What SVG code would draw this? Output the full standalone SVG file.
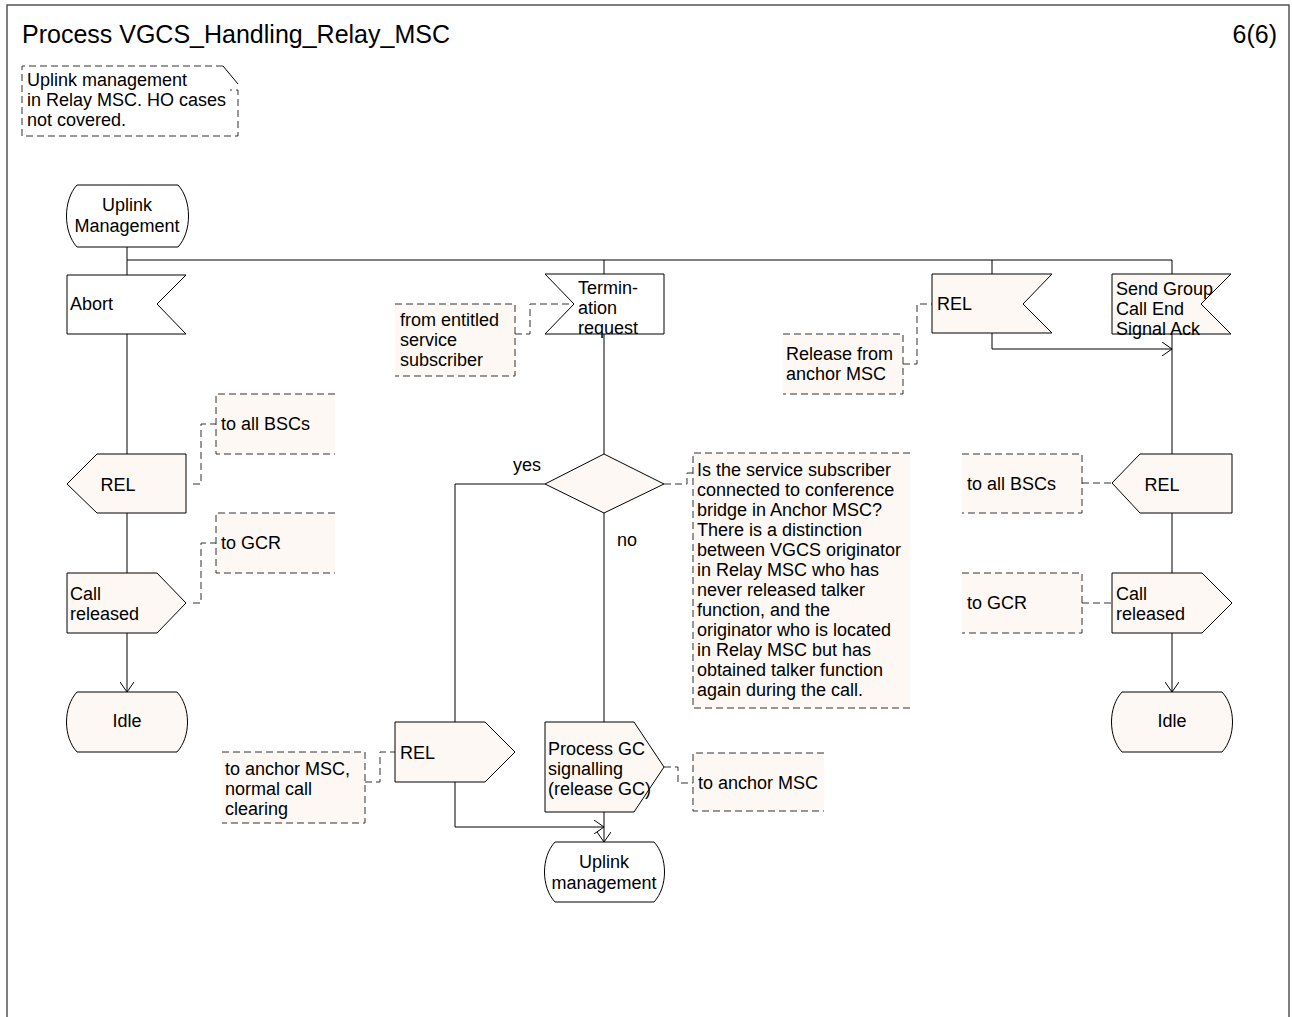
<svg xmlns="http://www.w3.org/2000/svg" width="1292" height="1017" viewBox="0 0 1292 1017">
<style>
.sym{fill:#fdf8f3;stroke:#000;stroke-width:1}
.symw{fill:#fff;stroke:#000;stroke-width:1}
.cm{fill:#fdf8f3;stroke:none}
.cb{fill:none;stroke:#333;stroke-width:1;stroke-dasharray:7,4}
.ln{fill:none;stroke:#000;stroke-width:1}
text{font-family:"Liberation Sans",Arial,sans-serif;font-size:18px;fill:#000}
.c{text-anchor:middle}
</style>
<defs>
<marker id="arr" viewBox="0 0 10 14" refX="10" refY="7" markerWidth="10" markerHeight="14" markerUnits="userSpaceOnUse" orient="auto">
<path d="M0,0 L10,7 L0,14" fill="none" stroke="#000" stroke-width="1"/>
</marker>
</defs>
<rect x="7" y="5" width="1282" height="1030" fill="#fff" stroke="#555" stroke-width="1.5"/>
<text x="22" y="43" style="font-size:25px">Process VGCS_Handling_Relay_MSC</text>
<text x="1277" y="43" style="font-size:25px;text-anchor:end">6(6)</text>

<g id="note">
<path class="cb" d="M223,66 H22 V136 H238 V90 H230"/>
<path class="ln" d="M223,66 L238,84" stroke="#333"/>
<text x="27" y="86">Uplink management</text>
<text x="27" y="106">in Relay MSC. HO cases</text>
<text x="27" y="126">not covered.</text>
</g>

<g id="connectors">
<path class="ln" d="M127,247 V275"/>
<path class="ln" d="M127,260 H1172 V274"/>
<path class="ln" d="M604,260 V274"/>
<path class="ln" d="M992,260 V274"/>
<path class="ln" d="M127,334 V454"/>
<path class="ln" d="M127,513 V573"/>
<path class="ln" d="M127,633 V692" marker-end="url(#arr)"/>
<path class="ln" d="M604,334 V454"/>
<path class="ln" d="M545,484 H455 V722"/>
<path class="ln" d="M604,513 V722"/>
<path class="ln" d="M455,782 V827 H604" marker-end="url(#arr)"/>
<path class="ln" d="M604,812 V842" marker-end="url(#arr)"/>
<path class="ln" d="M992,333 V349 H1172" marker-end="url(#arr)"/>
<path class="ln" d="M1172,334 V454"/>
<path class="ln" d="M1172,513 V573"/>
<path class="ln" d="M1172,633 V692" marker-end="url(#arr)"/>
<path class="cb" d="M193,484 H201 V424 H216"/>
<path class="cb" d="M193,603 H201 V543 H216"/>
<path class="cb" d="M515,334 H530 V304 H574"/>
<path class="cb" d="M664,484 H687 V473 H693"/>
<path class="cb" d="M903,364 H917 V304 H932"/>
<path class="cb" d="M1082,483 H1112"/>
<path class="cb" d="M1082,603 H1112"/>
<path class="cb" d="M365,782 H380 V752 H395"/>
<path class="cb" d="M664,767 H678 V783 H693"/>
<text x="513" y="471">yes</text>
<text x="617" y="546">no</text>
</g>

<g id="start">
<path class="symw" d="M77,185 H178 C192,200 192,232 178,247 H77 C63,232 63,200 77,185 Z"/>
<text class="c" x="127" y="211">Uplink</text>
<text class="c" x="127" y="232">Management</text>
</g>

<g id="abort">
<path class="symw" d="M67,275 H186 L157,304 L186,334 H67 Z"/>
<text x="70" y="310">Abort</text>
</g>

<g id="rel_left">
<path class="sym" d="M97,454 H186 V513 H97 L67,484 Z"/>
<text class="c" x="118" y="491">REL</text>
</g>
<g id="c_allbsc_left">
<rect class="cm" x="216" y="394" width="119" height="60"/>
<path class="cb" d="M335,394 H216 V454 H335"/>
<text x="221" y="430">to all BSCs</text>
</g>

<g id="callrel_left">
<path class="sym" d="M67,573 H157 L186,603 L157,633 H67 Z"/>
<text x="70" y="600">Call</text>
<text x="70" y="620">released</text>
</g>
<g id="c_gcr_left">
<rect class="cm" x="216" y="513" width="119" height="60"/>
<path class="cb" d="M335,513 H216 V573 H335"/>
<text x="221" y="549">to GCR</text>
</g>

<g id="idle_left">
<path class="sym" d="M77,692 H177 C191,707 191,737 177,752 H77 C63,737 63,707 77,692 Z"/>
<text class="c" x="127" y="727">Idle</text>
</g>

<g id="termination">
<path class="symw" d="M545,274 H664 V334 H545 L574,304 Z"/>
<text x="578" y="294">Termin-</text>
<text x="578" y="314">ation</text>
<text x="578" y="334">request</text>
</g>
<g id="c_entitled">
<rect class="cm" x="395" y="304" width="120" height="72"/>
<path class="cb" d="M395,304 H515 V376 H395"/>
<text x="400" y="326">from entitled</text>
<text x="400" y="346">service</text>
<text x="400" y="366">subscriber</text>
</g>

<g id="decision">
<path class="sym" d="M545,484 L604,454 L664,484 L604,513 Z"/>
</g>
<g id="c_decision">
<rect class="cm" x="693" y="453" width="217" height="255"/>
<path class="cb" d="M910,453 H693 V708 H910"/>
<text x="697" y="476">Is the service subscriber</text>
<text x="697" y="496">connected to conference</text>
<text x="697" y="516">bridge in Anchor MSC?</text>
<text x="697" y="536">There is a distinction</text>
<text x="697" y="556">between VGCS originator</text>
<text x="697" y="576">in Relay MSC who has</text>
<text x="697" y="596">never released talker</text>
<text x="697" y="616">function, and the</text>
<text x="697" y="636">originator who is located</text>
<text x="697" y="656">in Relay MSC but has</text>
<text x="697" y="676">obtained talker function</text>
<text x="697" y="696">again during the call.</text>
</g>

<g id="rel_mid">
<path class="sym" d="M395,722 H485 L515,752 L485,782 H395 Z"/>
<text x="400" y="759">REL</text>
</g>
<g id="c_anchor_normal">
<rect class="cm" x="222" y="752" width="143" height="71"/>
<path class="cb" d="M222,752 H365 V823 H222"/>
<text x="225" y="775">to anchor MSC,</text>
<text x="225" y="795">normal call</text>
<text x="225" y="815">clearing</text>
</g>

<g id="process_gc">
<path class="sym" d="M545,722 H634 L664,767 L634,812 H545 Z"/>
<text x="548" y="755">Process GC</text>
<text x="548" y="775">signalling</text>
<text x="548" y="795">(release GC)</text>
</g>
<g id="c_anchor">
<rect class="cm" x="693" y="753" width="131" height="58"/>
<path class="cb" d="M824,753 H693 V811 H824"/>
<text x="698" y="789">to anchor MSC</text>
</g>

<g id="uplink_end">
<path class="symw" d="M555,842 H654 C668,857 668,887 654,902 H555 C541,887 541,857 555,842 Z"/>
<text class="c" x="604" y="868">Uplink</text>
<text class="c" x="604" y="889">management</text>
</g>

<g id="rel_in">
<path class="sym" d="M932,274 H1052 L1023,304 L1052,333 H932 Z"/>
<text x="937" y="310">REL</text>
</g>
<g id="c_release_from">
<rect class="cm" x="783" y="334" width="120" height="60"/>
<path class="cb" d="M783,334 H903 V394 H783"/>
<text x="786" y="360">Release from</text>
<text x="786" y="380">anchor MSC</text>
</g>

<g id="send_gc_end">
<path class="sym" d="M1112,274 H1231 L1201,304 L1231,334 H1112 Z"/>
<text x="1116" y="295">Send Group</text>
<text x="1116" y="315">Call End</text>
<text x="1116" y="335">Signal Ack</text>
</g>

<g id="rel_right">
<path class="sym" d="M1140,454 H1232 V513 H1140 L1112,483 Z"/>
<text class="c" x="1162" y="491">REL</text>
</g>
<g id="c_allbsc_right">
<rect class="cm" x="962" y="454" width="120" height="59"/>
<path class="cb" d="M962,454 H1082 V513 H962"/>
<text x="967" y="490">to all BSCs</text>
</g>

<g id="callrel_right">
<path class="sym" d="M1112,573 H1202 L1232,603 L1202,633 H1112 Z"/>
<text x="1116" y="600">Call</text>
<text x="1116" y="620">released</text>
</g>
<g id="c_gcr_right">
<rect class="cm" x="962" y="573" width="120" height="60"/>
<path class="cb" d="M962,573 H1082 V633 H962"/>
<text x="967" y="609">to GCR</text>
</g>

<g id="idle_right">
<path class="sym" d="M1122,692 H1222 C1236,707 1236,737 1222,752 H1122 C1108,737 1108,707 1122,692 Z"/>
<text class="c" x="1172" y="727">Idle</text>
</g>
</svg>
